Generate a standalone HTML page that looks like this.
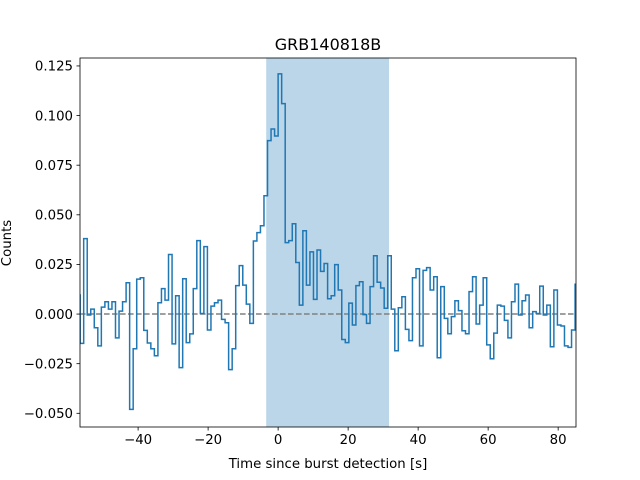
<!DOCTYPE html>
<html><head><meta charset="utf-8"><style>
body{margin:0;background:#fff;}
svg{display:block;font-family:"DejaVu Sans","Liberation Sans",sans-serif;}
</style></head><body>
<svg id="chart" width="640" height="480" viewBox="0 0 640 480">
<rect width="640" height="480" fill="#fff"/>
<g id="plot"></g>
</svg>
<script>
const preCounts=[0.0096,-0.0148,0.038,-0.0005,0.0025,-0.0069,-0.016,0.0035,0.0062,0.0025,0.0062,-0.012,0.0015,0.0062,0.0158,-0.048,-0.0175,0.0176,0.0183,-0.0082,-0.0146,-0.0175,-0.021,0.0057,0.0128,0.007,0.030,-0.015,0.0092,-0.027,0.0178,-0.0144,-0.010,0.0128,0.037,0.0003,0.034,-0.008,0.004,0.0057,0.007,-0.0027,-0.0044,-0.028,-0.0175,0.0143,0.0244,0.0146,0.005,-0.0047,0.0368,0.041,0.0445,0.0596,0.0874,0.0932,0.0897];
const postCounts=[0.121,0.106,0.036,0.037,0.0455,0.026,0.0045,0.042,0.0146,0.0313,0.0074,0.0323,0.0215,0.0255,0.0077,0.0092,0.0249,0.0121,-0.0128,-0.0144,0.0055,-0.0055,0.0143,0.0163,-0.0003,-0.0047,0.0138,0.0294,0.016,0.0131,0.0029,0.0294,0.0025,-0.0185,0.0032,0.0087,-0.0077,-0.0134,0.0183,0.0228,-0.016,0.022,0.0234,0.0121,0.0188,-0.022,0.0138,-0.0022,-0.0099,-0.0013,0.0067,0.0017,-0.0084,-0.0099,0.0113,0.0188,-0.005,0.0045,0.0183,-0.0155,-0.0225,-0.0096,0.0045,0.004,-0.0032,-0.012,0.0062,0.0151,-0.0005,0.0067,0.0096,-0.0069,0.0012,0.0003,0.0141,-0.0005,0.0045,-0.0165,0.0121,-0.0055,-0.006,-0.016,-0.0168,-0.008,0.015];
const binWidth=1.01;
const xTicks=[-40,-20,0,20,40,60,80];
const yTicks=[-0.05,-0.025,0,0.025,0.05,0.075,0.1,0.125];
const shadeRange=[-3.4,31.7];
const xDomain=[-56.6,85.1], yDomain=[-0.0569,0.129];

const L=80,R=576,T=58,B=427;
const NS="http://www.w3.org/2000/svg";
const X=v=>L+(v-xDomain[0])/(xDomain[1]-xDomain[0])*(R-L);
const Y=v=>B-(v-yDomain[0])/(yDomain[1]-yDomain[0])*(B-T);
const g=document.getElementById('plot');
function mk(tag,attrs,parent){const e=document.createElementNS(NS,tag);for(const k in attrs)e.setAttribute(k,attrs[k]);(parent||g).appendChild(e);return e;}

const clip=mk('clipPath',{id:'clp'});mk('rect',{x:L,y:T,width:R-L,height:B-T},clip);

const sh=mk('rect',{x:X(shadeRange[0]),y:T,width:X(shadeRange[1])-X(shadeRange[0]),height:B-T,fill:'#1f77b4','fill-opacity':0.3});



const zl=mk('line',{x1:L,x2:R,y1:Y(0),y2:Y(0),stroke:'#808080','stroke-width':1.5,'stroke-dasharray':'5.6,2.4'});



// step line
let d='';
const n0=preCounts.length;
const all=preCounts.concat(postCounts);
all.forEach((v,i)=>{const t0=(i-n0)*binWidth,t1=t0+binWidth;
  d+=(i===0?'M':'L')+X(t0).toFixed(2)+','+Y(v).toFixed(2)+'L'+X(t1).toFixed(2)+','+Y(v).toFixed(2);});
const ln=mk('path',{d:d,fill:'none',stroke:'#1f77b4','stroke-width':1.5,'clip-path':'url(#clp)','stroke-linejoin':'miter'});



const fr=mk('rect',{x:L,y:T,width:R-L,height:B-T,fill:'none',stroke:'#000','stroke-width':0.8});



xTicks.forEach(v=>{const x=X(v);
  const tk=mk('line',{x1:x,x2:x,y1:B,y2:B+3.5,stroke:'#000','stroke-width':0.8});
  
  
  const tx=mk('text',{x:x,y:B+17,'text-anchor':'middle','font-size':'13.3px',fill:'#000'});
  tx.textContent=(v<0?'\u2212':'')+Math.abs(v);
  
  
});
yTicks.forEach(v=>{const y=Y(v);
  const tk=mk('line',{x1:L-3.5,x2:L,y1:y,y2:y,stroke:'#000','stroke-width':0.8});
  
  
  const tx=mk('text',{x:L-7,y:y+4.8,'text-anchor':'end','font-size':'13.3px',fill:'#000'});
  tx.textContent=(v<0?'\u2212':'')+Math.abs(v).toFixed(3);
  
  
});
</script>
<svg width="0" height="0"></svg>
<div style="position:absolute;left:0;top:0;width:640px;height:480px;pointer-events:none;">
<svg width="640" height="480" style="font-family:'DejaVu Sans','Liberation Sans',sans-serif;">
<text x="328" y="50" text-anchor="middle" font-size="16px" fill="#000">GRB140818B</text>
<text x="328" y="468" text-anchor="middle" font-size="13.3px" fill="#000">Time since burst detection [s]</text>
<text x="11" y="243" text-anchor="middle" font-size="13.3px" fill="#000" transform="rotate(-90 11 243)">Counts</text>
</svg></div>
</body></html>
